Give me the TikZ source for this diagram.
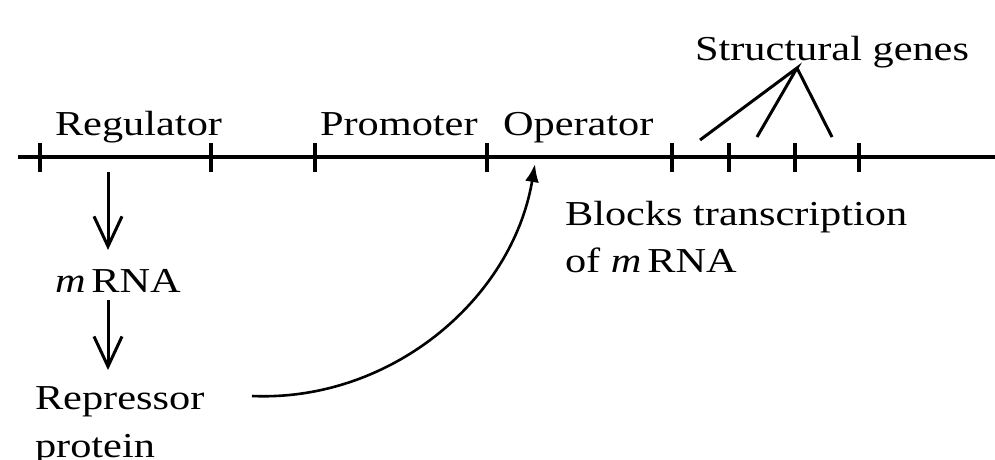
\documentclass[tikz,border=0pt]{standalone}
\usepackage{fontspec}
\setmainfont[FakeStretch=1.21]{Liberation Serif}
\usetikzlibrary{arrows.meta}
\begin{document}
\begin{tikzpicture}[x=1pt,y=-1pt,
  lbl/.style={anchor=base west, inner sep=0pt, outer sep=0pt, font=\fontsize{35}{47.5}\selectfont},
  blocklbl/.style={anchor=north west, inner sep=0pt, outer sep=0pt, align=left, font=\fontsize{35}{47.5}\selectfont},
  dna/.style={line width=3.6pt},
  tickmark/.style={line width=3.2pt},
  varr/.style={line width=3pt, -{Straight Barb[length=30pt,width=28pt,line width=3pt]}},
  curvearr/.style={line width=2.6pt, -{Latex[length=18pt,width=14pt]}},
  pointer/.style={line width=3pt}]
\useasboundingbox (0,0) rectangle (995,460);

% DNA strand
\coordinate (dnaL) at (18,157);
\coordinate (dnaR) at (995,157);
\draw[dna] (dnaL) -- (dnaR);
\foreach \x in {40,211,315,487,672,729,795,859}
  \draw[tickmark] (\x,143) -- (\x,172);

% Labels above the strand
\node[lbl] (reg) at (55,135) {Regulator};
\node[lbl] (prom) at (320,135) {Promoter};
\node[lbl] (oper) at (503,135) {Operator};
\node[lbl] (sg) at (695,60) {Structural genes};

% Structural genes pointers
\coordinate (sgp) at (797,68);
\coordinate (g1) at (700,140);
\coordinate (g2) at (757,137);
\coordinate (g3) at (832,137);
\draw[pointer] (g1) -- (sgp) -- (g2);
\draw[pointer] (sgp) -- (g3);

% Left column
\node[lbl] (mrna) at (55,292) {\textit{m}\,RNA};
\node[blocklbl] (rep) at (35,387) {Repressor\\protein};
\coordinate (a1s) at (108,172);
\draw[varr, shorten >=19pt] (a1s) -- (a1s |- mrna.north);
\draw[varr, shorten <=8pt, shorten >=17pt] (a1s |- mrna.south) -- (a1s |- rep.north);

% Repressor binds operator
\coordinate (cs) at (252,396);
\coordinate (ct) at (535,164);
\draw[curvearr] (cs) .. controls (390,402) and (512,300) .. (ct);

% Effect
\node[blocklbl] (blk) at (565,201) {Blocks transcription\\of \textit{m}\,RNA};
\end{tikzpicture}
\end{document}
